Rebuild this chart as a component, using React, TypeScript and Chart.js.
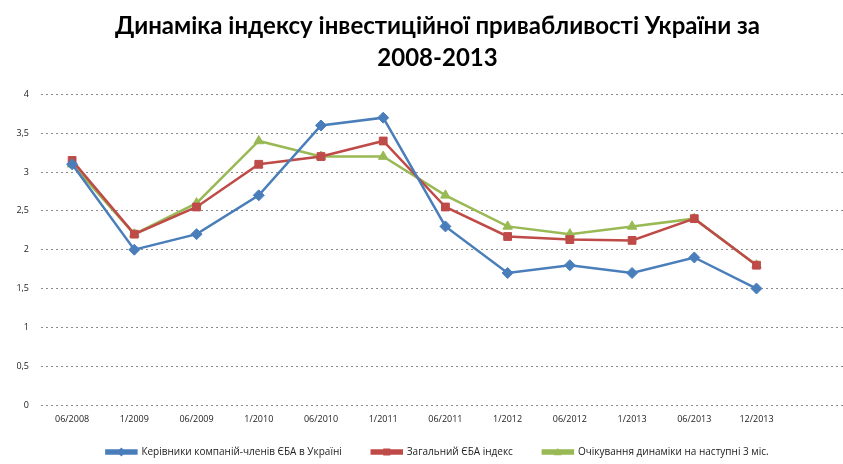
import React, { useEffect, useRef } from "react";
import { Chart, registerables } from "chart.js";

Chart.register(...registerables);

const titleLines = ["Динаміка індексу інвестиційної привабливості України за", "2008-2013"];
const periods = ["06/2008", "1/2009", "06/2009", "1/2010", "06/2010", "1/2011", "06/2011", "1/2012", "06/2012", "1/2013", "06/2013", "12/2013"];
const seriesNames = ["Керівники компаній-членів ЄБА в Україні", "Загальний ЄБА індекс", "Очікування динаміки на наступні 3 міс."];
const managersIndex = [3.1, 2.0, 2.2, 2.7, 3.6, 3.7, 2.3, 1.7, 1.8, 1.7, 1.9, 1.5];
const overallIndex = [3.15, 2.2, 2.55, 3.1, 3.2, 3.4, 2.55, 2.17, 2.13, 2.12, 2.4, 1.8];
const expectations = [3.1, 2.2, 2.6, 3.4, 3.2, 3.2, 2.7, 2.3, 2.2, 2.3, 2.4, 1.8];
const yTickLabels = ["0", "0,5", "1", "1,5", "2", "2,5", "3", "3,5", "4"];

const seriesColors = ["#4a7ebb", "#be4b48", "#98b954"];
const seriesMarkers = ["rectRot", "rect", "triangle"];

const toPoints = (arr: number[]) => arr.map((v, i) => ({ x: i, y: v }));

const legendMarkerPlugin = {
  id: "legendMarkers",
  afterDraw(chart: any) {
    const legend = chart.legend;
    if (!legend || !legend.legendHitBoxes) return;
    const ctx = chart.ctx;
    const boxWidth = legend.options.labels.boxWidth;
    legend.legendHitBoxes.forEach((hb: any, i: number) => {
      const cx = hb.left + boxWidth / 2;
      const cy = hb.top + hb.height / 2;
      const r = 4;
      ctx.save();
      ctx.fillStyle = seriesColors[i];
      ctx.beginPath();
      if (seriesMarkers[i] === "rectRot") {
        ctx.moveTo(cx, cy - r - 0.5);
        ctx.lineTo(cx + r + 0.5, cy);
        ctx.lineTo(cx, cy + r + 0.5);
        ctx.lineTo(cx - r - 0.5, cy);
      } else if (seriesMarkers[i] === "rect") {
        ctx.rect(cx - r + 0.5, cy - r + 0.5, 2 * r - 1, 2 * r - 1);
      } else {
        ctx.moveTo(cx, cy - r);
        ctx.lineTo(cx + r, cy + r * 0.8);
        ctx.lineTo(cx - r, cy + r * 0.8);
      }
      ctx.closePath();
      ctx.fill();
      ctx.restore();
    });
  },
};

export default function App() {
  const ref = useRef<HTMLCanvasElement | null>(null);
  useEffect(() => {
    document.body.style.margin = "0";
    document.body.style.overflow = "hidden";
    const canvas = ref.current;
    if (!canvas) return;
    const fontFamily = "'Open Sans', 'Liberation Sans', sans-serif";
    const makeDataset = (label: string, values: number[], idx: number) => ({
      label,
      data: toPoints(values),
      borderColor: seriesColors[idx],
      backgroundColor: seriesColors[idx],
      borderWidth: 2.5,
      pointStyle: seriesMarkers[idx],
      pointRadius: 5.5,
      pointBorderWidth: 1,
      tension: 0,
    });
    const chart = new Chart(canvas, {
      type: "line",
      data: {
        datasets: [
          makeDataset(seriesNames[0], managersIndex, 0),
          makeDataset(seriesNames[1], overallIndex, 1),
          makeDataset(seriesNames[2], expectations, 2),
        ],
      },
      plugins: [legendMarkerPlugin],
      options: {
        responsive: false,
        animation: false,
        layout: { padding: { left: 0, right: 0, top: 11, bottom: -3 } },
        plugins: {
          title: {
            display: true,
            text: titleLines,
            color: "#000",
            font: { family: "Lato, 'Open Sans', sans-serif", size: 24, weight: "bold", lineHeight: 1.3 },
            padding: { top: 0, bottom: 21 },
          },
          legend: {
            position: "bottom",
            labels: {
              boxWidth: 30,
              boxHeight: 3,
              padding: 30,
              color: "#222",
              font: { family: fontFamily, size: 10 },
            },
          },
          tooltip: { enabled: false },
        },
        scales: {
          x: {
            type: "linear",
            min: -0.5,
            max: 12.8,
            grid: { display: false },
            border: { display: false },
            afterBuildTicks: (scale: any) => {
              scale.ticks = periods.map((_, i) => ({ value: i }));
            },
            afterFit: (scale: any) => {
              scale.height = 12;
              scale._computeLabelArea = () => undefined;
            },
            ticks: {
              autoSkip: false,
              maxRotation: 0,
              color: "#222",
              font: { family: fontFamily, size: 9 },
              padding: 1,
              callback: (value: any) => periods[value as number] ?? "",
            },
          },
          y: {
            min: 0,
            max: 4,
            afterFit: (scale: any) => {
              scale.width = 41;
            },
            ticks: {
              stepSize: 0.5,
              color: "#222",
              font: { family: fontFamily, size: 9 },
              padding: 12,
              callback: (value: any) => yTickLabels[Math.round((value as number) * 2)] ?? "",
            },
            grid: { color: "#8a8a8a", lineWidth: 1, drawTicks: false },
            border: { display: false, dash: [2, 3] },
          },
        },
      },
    } as any);
    return () => chart.destroy();
  }, []);
  return (
    <div style={{ position: "fixed", left: 0, top: 0, width: 843, height: 464, overflow: "hidden", background: "#fff" }}>
      <canvas ref={ref} width={875} height={464} style={{ display: "block" }} />
    </div>
  );
}
